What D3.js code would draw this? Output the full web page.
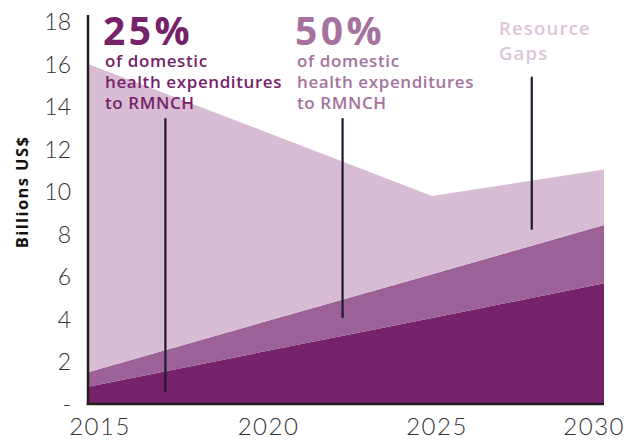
<!DOCTYPE html>
<html>
<head>
<meta charset="utf-8">
<script src="https://cdn.jsdelivr.net/npm/d3@7"></script>
<style>
  html, body { margin: 0; padding: 0; background: #fff; }
  svg { display: block; }
</style>
</head>
<body>
<svg id="chart" width="626" height="441"></svg>
<script>
// ---- Data ----
const years = [2015, 2020, 2025, 2030];
const domestic25 = [0.81, 2.43, 4.05, 5.68];   // 25% of domestic health expenditures to RMNCH
const additional50 = [0.69, 1.38, 2.06, 2.74]; // additional amount at 50%
const resourceGaps = [14.5, 9.1, 3.68, 2.62];  // remaining resource gaps
const yTickValues = [0, 2, 4, 6, 8, 10, 12, 14, 16, 18];
const yTickLabels = ["-", "2", "4", "6", "8", "10", "12", "14", "16", "18"];
const xTickValues = [2015, 2020, 2025, 2030];
const seriesKeys = ["domestic25", "additional50", "resourceGaps"];
const seriesColors = ["#76226a", "#9c6196", "#d7bcd3"];

// annotation callouts (data coords)
const callouts = [
  { year: 2017.25, from: 0.55, to: 13.45 },
  { year: 2022.4, from: 4.05, to: 13.45 },
  { year: 2027.9, from: 8.2, to: 15.4 }
];

const table = years.map((y, i) => ({
  year: y, domestic25: domestic25[i], additional50: additional50[i], resourceGaps: resourceGaps[i]
}));

const W = 626;
const svg = d3.select("#chart");
const x = d3.scaleLinear().domain([2015, 2030]).range([88, 604]);
const y = d3.scaleLinear().domain([0, 18]).range([404, 21.5]);
const xLabel = d3.scaleLinear().domain([2015, 2030]).range([99.5, 605]);

const stacked = d3.stack().keys(seriesKeys)(table);
const area = d3.area()
  .x(d => x(d.data.year))
  .y0(d => y(d[0]))
  .y1(d => y(d[1]));

svg.append("g").selectAll("path")
  .data(stacked)
  .join("path")
  .attr("d", area)
  .attr("fill", (d, i) => seriesColors[i]);

// callout lines
svg.append("g").selectAll("line")
  .data(callouts)
  .join("line")
  .attr("x1", d => x(d.year)).attr("x2", d => x(d.year))
  .attr("y1", d => y(d.from)).attr("y2", d => y(d.to))
  .attr("stroke", "#1d1a30").attr("stroke-width", 2.2);

// axes lines
svg.append("line")
  .attr("x1", x(2015)).attr("x2", x(2015))
  .attr("y1", 15).attr("y2", y(0) + 1)
  .attr("stroke", "#231f20").attr("stroke-width", 2.5);
svg.append("line")
  .attr("x1", x(2015) - 1.2).attr("x2", x(2030))
  .attr("y1", y(0)).attr("y2", y(0))
  .attr("stroke", "#231f20").attr("stroke-width", 2.5);

const numFont = "Lato, 'Open Sans', sans-serif";

// y tick labels
const yAxis = d3.axisLeft(y).tickValues(yTickValues)
  .tickFormat((d, i) => yTickLabels[i]).tickSize(0).tickPadding(0);
const gy = svg.append("g").attr("transform", "translate(71,0)").call(yAxis);
gy.select(".domain").remove();
gy.selectAll("text")
  .attr("font-family", numFont).attr("font-weight", 300)
  .attr("font-size", 23).attr("fill", "#333")
  .attr("dy", "0.36em");

// x tick labels
const xAxis = d3.axisBottom(xLabel).tickValues(xTickValues)
  .tickFormat(d3.format("d")).tickSize(0).tickPadding(0);
const gx = svg.append("g").attr("transform", "translate(0,435)").call(xAxis);
gx.select(".domain").remove();
gx.selectAll("text")
  .attr("font-family", numFont).attr("font-weight", 300)
  .attr("font-size", 24).attr("fill", "#333")
  .attr("letter-spacing", 1.5)
  .attr("dy", 0);
// keep labels inside the canvas
gx.selectAll(".tick").each(function () {
  const t = d3.select(this);
  const tr = this.transform.baseVal.consolidate().matrix.e;
  const bb = this.querySelector("text").getBBox();
  const right = tr + bb.x + bb.width;
  if (right > W - 1) t.select("text").attr("x", (W - 1) - right);
});

// y title
svg.append("text")
  .attr("transform", "translate(28,192) rotate(-90)")
  .attr("text-anchor", "middle")
  .attr("font-family", "'Open Sans', sans-serif").attr("font-weight", 700)
  .attr("font-size", 16.5).attr("fill", "#111")
  .attr("letter-spacing", 1.4)
  .text("Billions US$");

// annotations
const annFont = "'Open Sans', sans-serif";
function block(x0, color, big, lines) {
  const g = svg.append("g").attr("fill", color).attr("font-family", annFont);
  g.append("text").attr("x", x0 - 2).attr("y", 45)
    .attr("font-size", 39).attr("font-weight", 700)
    .attr("letter-spacing", 3.5).text(big);
  lines.forEach((t, i) => {
    g.append("text").attr("x", x0).attr("y", 67 + i * 21)
      .attr("font-size", 17).attr("font-weight", 600)
      .attr("letter-spacing", 0.6).text(t);
  });
}
block(105, "#76226a", "25%", ["of domestic", "health expenditures", "to RMNCH"]);
block(297, "#a5729e", "50%", ["of domestic", "health expenditures", "to RMNCH"]);

const rg = svg.append("g").attr("fill", "#dcc5d8").attr("font-family", annFont)
  .attr("font-size", 18.5).attr("font-weight", 600).attr("letter-spacing", 1.2);
rg.append("text").attr("x", 499).attr("y", 35).text("Resource");
rg.append("text").attr("x", 499).attr("y", 60).text("Gaps");
</script>
</body>
</html>
